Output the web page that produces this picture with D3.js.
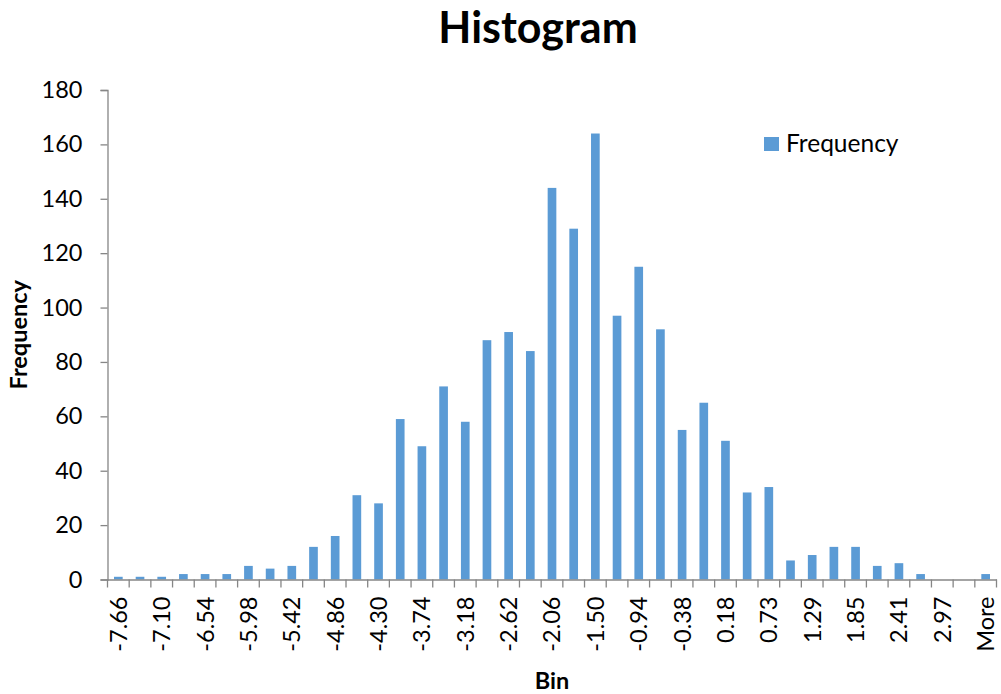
<!DOCTYPE html>
<html>
<head>
<meta charset="utf-8">
<script src="https://cdn.jsdelivr.net/npm/d3@7"></script>
<style>
  body { margin: 0; background: #fff; }
  svg { font-family: Lato, "Open Sans", sans-serif; }
</style>
</head>
<body>
<script>
// bin upper limits as Excel writes them, then the overflow bin
let bins = ["-7.66", "-7.38", "-7.10", "-6.82", "-6.54", "-6.26", "-5.98", "-5.70", "-5.42", "-5.14",
    "-4.86", "-4.58", "-4.30", "-4.02", "-3.74", "-3.46", "-3.18", "-2.90", "-2.62", "-2.34",
    "-2.06", "-1.78", "-1.50", "-1.22", "-0.94", "-0.66", "-0.38", "-0.10", "0.18", "0.45",
    "0.73", "1.01", "1.29", "1.57", "1.85", "2.13", "2.41", "2.69", "2.97", "3.25", "More"];
let frequency = [1, 1, 1, 2, 2, 2, 5, 4, 5, 12,
    16, 31, 28, 59, 49, 71, 58, 88, 91, 84,
    144, 129, 164, 97, 115, 92, 55, 65, 51, 32,
    34, 7, 9, 12, 12, 5, 6, 2, 0, 0, 2];
let yTicks = [0, 20, 40, 60, 80, 100, 120, 140, 160, 180];

let data = bins.map((b, i) => ({bin: b, value: frequency[i]}));

let W = 1001, H = 694;
let margin = {top: 90, right: 4.5, bottom: 114.5, left: 107.5};
let width = W - margin.left - margin.right,
    height = H - margin.top - margin.bottom;

let barColor = "#5b9bd5", axisColor = "#868686";

let svg = d3.select("body").append("svg")
    .attr("width", W)
    .attr("height", H);

let g = svg.append("g")
    .attr("transform", "translate(" + margin.left + "," + margin.top + ")");

let x = d3.scaleBand().domain(bins).range([0, width]);
let y = d3.scaleLinear().domain([0, 180]).range([height, 0]);

// Excel gap width 150%
let barW = x.bandwidth() / 2.5;

g.selectAll("rect.bar")
    .data(data)
    .enter().append("rect")
    .attr("class", "bar")
    .attr("x", d => x(d.bin) + (x.bandwidth() - barW) / 2)
    .attr("width", barW)
    .attr("y", d => y(d.value))
    .attr("height", d => height - y(d.value))
    .attr("fill", barColor);

// y axis
let yAxis = g.append("g")
    .call(d3.axisLeft(y).tickValues(yTicks).tickSize(7).tickPadding(18))
    .attr("font-family", null)
    .attr("font-size", null);
yAxis.select(".domain").attr("stroke", axisColor).attr("stroke-width", 1.3);
yAxis.selectAll(".tick line").attr("stroke", axisColor).attr("stroke-width", 1.3);
yAxis.selectAll("text")
    .attr("fill", "#000")
    .style("font-size", "23.5px");

// x axis: labels on every other bin, ticks on band edges
let xAxis = g.append("g")
    .attr("transform", "translate(0," + height + ")")
    .call(d3.axisBottom(x).tickSize(0)
        .tickFormat((d, i) => i % 2 === 0 ? d : ""))
    .attr("font-family", null)
    .attr("font-size", null);
xAxis.select(".domain").attr("stroke", axisColor).attr("stroke-width", 1.3);
xAxis.selectAll("text")
    .attr("fill", "#000")
    .style("font-size", "23.5px")
    .style("text-anchor", "end")
    .attr("transform", "rotate(-90)")
    .attr("x", -17)
    .attr("y", 0)
    .attr("dy", "0.36em");

let edges = bins.map(b => x(b)).concat([width]);
xAxis.selectAll("line.edge")
    .data(edges)
    .enter().append("line")
    .attr("class", "edge")
    .attr("x1", d => d).attr("x2", d => d)
    .attr("y1", 0).attr("y2", 8)
    .attr("stroke", axisColor)
    .attr("stroke-width", 1.3);

// titles
svg.append("text")
    .attr("x", 538)
    .attr("y", 43)
    .attr("text-anchor", "middle")
    .style("font-size", "43px")
    .style("font-weight", "bold")
    .text("Histogram");

svg.append("text")
    .attr("transform", "translate(27," + (margin.top + height / 2) + ") rotate(-90)")
    .attr("text-anchor", "middle")
    .style("font-size", "23.5px")
    .style("font-weight", "bold")
    .text("Frequency");

svg.append("text")
    .attr("x", margin.left + width / 2)
    .attr("y", 689)
    .attr("text-anchor", "middle")
    .style("font-size", "23.5px")
    .style("font-weight", "bold")
    .text("Bin");

// legend
let legend = svg.append("g").attr("transform", "translate(764,137)");
legend.append("rect")
    .attr("width", 15).attr("height", 14)
    .attr("fill", barColor);
legend.append("text")
    .attr("x", 22)
    .attr("y", 15)
    .style("font-size", "24.5px")
    .text("Frequency");
</script>
</body>
</html>
